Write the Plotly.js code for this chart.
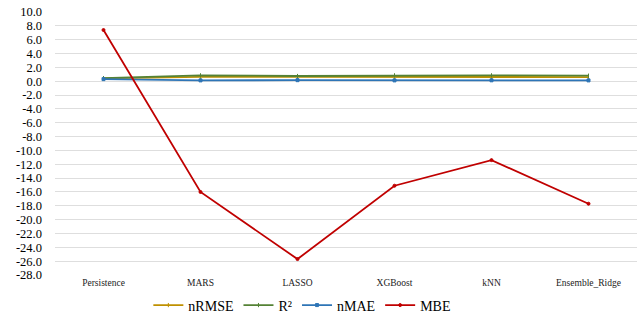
<!DOCTYPE html>
<html>
<head>
<meta charset="utf-8">
<script src="https://cdn.plot.ly/plotly-3.0.1.min.js"></script>
<style>
  html, body { margin: 0; padding: 0; background: #fff; }
  #chart { width: 641px; height: 320px; }
</style>
</head>
<body>
<div id="chart"></div>
<script>
// Model names along the x axis
const models = ['Persistence', 'MARS', 'LASSO', 'XGBoost', 'kNN', 'Ensemble_Ridge'];

// Error metrics per model
const nRMSE = [0.40, 0.62, 0.62, 0.60, 0.62, 0.60];
const R2    = [0.45, 0.85, 0.75, 0.85, 0.85, 0.80];
const nMAE  = [0.30, 0.12, 0.15, 0.12, 0.13, 0.12];
const MBE   = [7.4, -16.0, -25.7, -15.1, -11.4, -17.7];

// Y axis ticks every 2.0 from 10 down to -28
const yTicks = [];
for (let v = 10; v >= -28; v -= 2) yTicks.push(v);
const yTickText = yTicks.map(v => v.toFixed(1));

const serif = "Liberation Serif, Times New Roman, serif";

function series(name, y, color, symbol) {
  return {
    x: models, y: y, name: name, type: 'scatter', mode: 'lines+markers',
    line: { color: color, width: 1.8 },
    marker: { color: color, size: 3, symbol: symbol, line: { color: color, width: 1 } },
    hoverinfo: 'skip'
  };
}

const data = [
  series('nRMSE', nRMSE, '#bf9000', 'line-ns'),
  series('R²', R2, '#548235', 'line-ns'),
  series('nMAE', nMAE, '#2e75b6', 'square'),
  series('MBE', MBE, '#c00000', 'circle')
];

const layout = {
  width: 641, height: 320,
  margin: { l: 55, r: 4, t: 12, b: 45, autoexpand: false },
  paper_bgcolor: '#ffffff', plot_bgcolor: '#ffffff',
  font: { family: serif, color: '#000' },
  showlegend: true,
  legend: {
    orientation: 'h', x: 0.425, xanchor: 'center', y: -0.055, yanchor: 'top',
    font: { family: serif, size: 14, color: '#000' },
    itemwidth: 30, tracegroupgap: 0, itemclick: false
  },
  xaxis: {
    type: 'category', showgrid: false, zeroline: false, showline: false,
    ticks: '', tickfont: { family: serif, size: 9.5, color: '#222' },
    range: [-0.5, 5.5], fixedrange: true
  },
  yaxis: {
    range: [-28, 10], tickvals: yTicks, ticktext: yTickText,
    showgrid: true, gridcolor: '#dedede', gridwidth: 1,
    zeroline: false, showline: false, ticks: '',
    ticklabelstandoff: 12,
    tickfont: { family: serif, size: 12.5, color: '#000' }, fixedrange: true
  }
};

Plotly.newPlot('chart', data, layout, { displayModeBar: false, staticPlot: true });
</script>
</body>
</html>
